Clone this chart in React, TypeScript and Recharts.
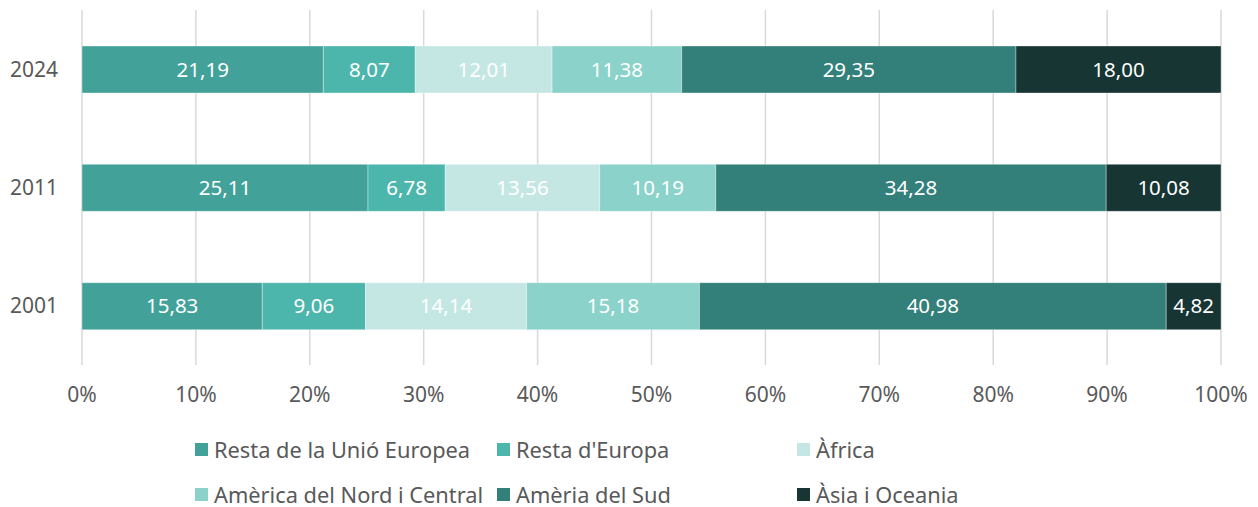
import React from "react";
import { BarChart, Bar, XAxis, YAxis, CartesianGrid, LabelList, Legend } from "recharts";

const years = ["2024", "2011", "2001"];
const restaUE = [21.19, 25.11, 15.83];
const restaEuropa = [8.07, 6.78, 9.06];
const africa = [12.01, 13.56, 14.14];
const americaNord = [11.38, 10.19, 15.18];
const americaSud = [29.35, 34.28, 40.98];
const asia = [18.0, 10.08, 4.82];
const xTicks = [0, 10, 20, 30, 40, 50, 60, 70, 80, 90, 100];

const series = [
  { key: "restaUE", name: "Resta de la Unió Europea", color: "#42a29a", values: restaUE },
  { key: "restaEuropa", name: "Resta d'Europa", color: "#4db6ac", values: restaEuropa },
  { key: "africa", name: "Àfrica", color: "#c5e7e4", values: africa },
  { key: "americaNord", name: "Amèrica del Nord i Central", color: "#8bd3ca", values: americaNord },
  { key: "americaSud", name: "Amèria del Sud", color: "#33807a", values: americaSud },
  { key: "asia", name: "Àsia i Oceania", color: "#163533", values: asia },
];

const data = years.map((year, i) => {
  const row: Record<string, string | number> = { year };
  series.forEach((s) => {
    row[s.key] = s.values[i];
  });
  return row;
});

const FONT = "'Noto Sans', 'Open Sans', sans-serif";
const fmt = (v: any) => Number(v).toFixed(2).replace(".", ",");

// legend columns: 3 per row, same order as Excel
const legendCols = [195, 497, 797];
const legendRows = [449, 494];
const LEGEND_TOP = 410;

function CustomLegend() {
  return (
    <div style={{ position: "relative", width: 1258, height: 90 }}>
      {series.map((s, i) => {
        const col = i % 3;
        const row = Math.floor(i / 3);
        return (
          <div
            key={s.key}
            style={{
              position: "absolute",
              left: legendCols[col],
              top: legendRows[row] - 14 - LEGEND_TOP,
              display: "flex",
              alignItems: "center",
              height: 28,
              fontFamily: FONT,
              fontSize: 21.8,
              color: "#595959",
              whiteSpace: "nowrap",
            }}
          >
            <span style={{ width: 13, height: 13, background: s.color, marginRight: 6, display: "inline-block" }} />
            {s.name}
          </div>
        );
      })}
    </div>
  );
}

export default function App() {
  return (
    <div style={{ position: "absolute", left: 0, top: 0, width: 1258, height: 507, background: "#fff" }}>
      <BarChart
        width={1258}
        height={507}
        data={data}
        layout="vertical"
        margin={{ top: 10, right: 37, left: 0, bottom: 12 }}
        barSize={47}
      >
        <CartesianGrid horizontal={false} stroke="#d9d9d9" strokeWidth={1.5} />
        <XAxis
          type="number"
          domain={[0, 100]}
          ticks={xTicks}
          allowDataOverflow
          tickFormatter={(v: number) => `${v}%`}
          axisLine={false}
          tickLine={false}
          tickMargin={16}
          height={40}
          tick={{ fill: "#595959", fontSize: 21, fontFamily: FONT }}
        />
        <YAxis
          type="category"
          dataKey="year"
          width={82}
          axisLine={false}
          tickLine={false}
          tickMargin={18}
          tick={{ fill: "#595959", fontSize: 21, fontFamily: FONT }}
        />
        <Legend
          verticalAlign="bottom"
          content={() => <CustomLegend />}
          wrapperStyle={{ left: 0, top: LEGEND_TOP, width: 1258, height: 90 }}
        />
        {series.map((s) => (
          <Bar
            key={s.key}
            dataKey={s.key}
            name={s.name}
            stackId="a"
            fill={s.color}
            stroke="#ffffff"
            strokeOpacity={0.35}
            strokeWidth={1}
            isAnimationActive={false}
          >
            <LabelList
              dataKey={s.key}
              position="center"
              formatter={fmt}
              fill="#ffffff"
              style={{ fontSize: 20.5, fontFamily: FONT }}
            />
          </Bar>
        ))}
      </BarChart>
    </div>
  );
}
